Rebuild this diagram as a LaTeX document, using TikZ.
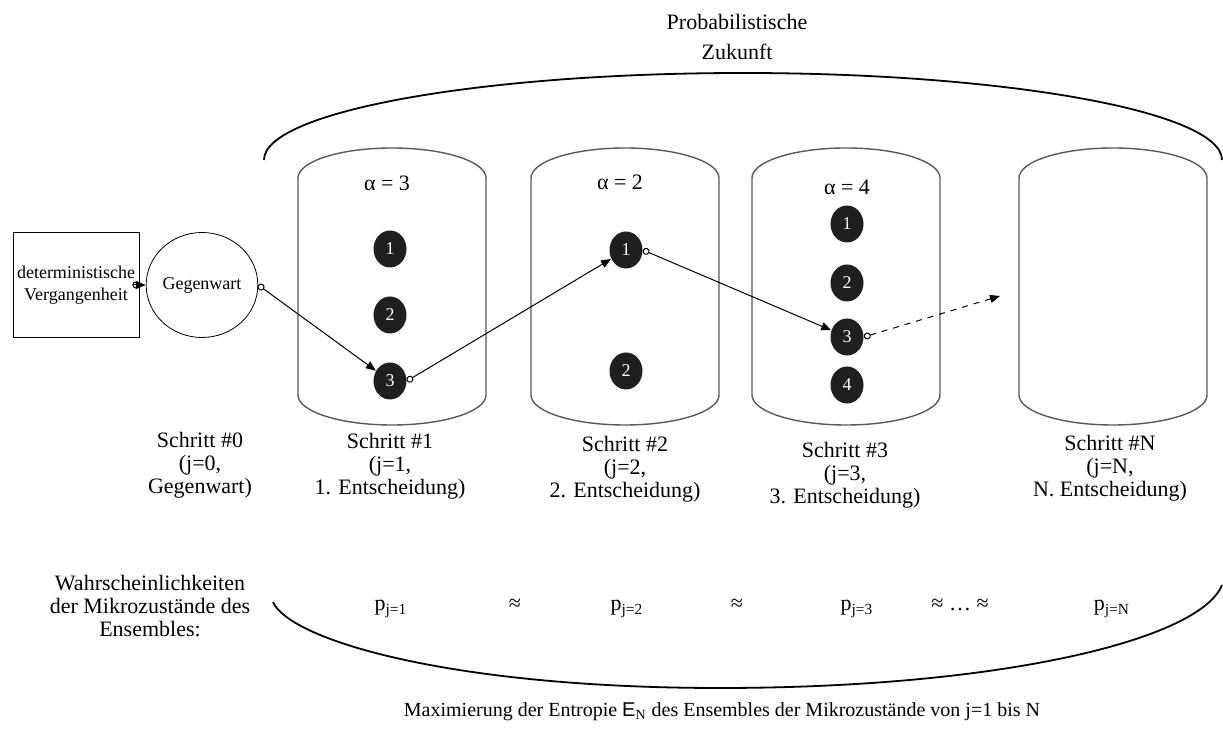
\documentclass[tikz,border=0pt]{standalone}
\usepackage{fontspec}
\setmainfont{Liberation Serif}
\newfontfamily\arialfont{Liberation Sans}
\usetikzlibrary{shapes.geometric,arrows.meta,positioning}

\begin{document}
\begin{tikzpicture}[x=0.5pt,y=-0.5pt,
		every node/.style={inner sep=1pt,font=\fontsize{11}{11.5}\selectfont},
		smalltext/.style={font=\fontsize{9}{11}\selectfont},
		mstate/.style={ellipse,fill=black!88,text=white,minimum width=16.5pt,
			minimum height=18.5pt,inner sep=0pt,smalltext},
		link/.style={{Circle[open,length=3.5pt,width=3.5pt]}-{Triangle[length=5pt,width=4pt]},
			line width=0.5pt},
		tank/.style={draw=black!65,line width=0.7pt},
		brace/.style={line width=0.9pt}]
		\useasboundingbox (0,0) rectangle (1223,731);

		% Future bracket and its title
		\node[align=center,font=\fontsize{11}{15}\selectfont] (future) at (737,37)
			{Probabilistische\\Zukunft};
		\draw[brace] (264,160) arc[start angle=180,end angle=360,x radius=479,y radius=87];

		% One tank per step
		\foreach \x in {298,531,752,1019} {
			\draw[tank] (\x,178) arc[start angle=180,end angle=360,x radius=94,y radius=30]
				-- (\x+188,395) arc[start angle=0,end angle=180,x radius=94,y radius=30] -- cycle;
		}

		% Past and present
		\node[draw,rectangle,minimum width=63pt,minimum height=52.5pt,align=center,smalltext]
			(past) at (76,285) {deterministische\\Vergangenheit};
		\node[draw,ellipse,minimum width=46.5pt,minimum height=52.5pt,inner sep=0pt,smalltext]
			(now) at (202,285) {Gegenwart};

		% Number of microstates
		\node (alpha1) at (387,183) {α = 3};
		\node (alpha2) at (620,182) {α = 2};
		\node (alpha3) at (847,187) {α = 4};

		% Microstates
		\foreach \i/\y in {1/249,2/315,3/381}
			\node[mstate] (a\i) at (390,\y) {\i};
		\foreach \i/\y in {1/250,2/371}
			\node[mstate] (b\i) at (626,\y) {\i};
		\foreach \i/\y in {1/224,2/283,3/337,4/385}
			\node[mstate] (c\i) at (847,\y) {\i};

		% Chosen path
		\draw[link] (past) -- (now);
		\draw[link] (now.east) -- (a3);
		\draw[link] (a3.east) -- (b1);
		\draw[link] (b1.east) -- (c3);
		\coordinate (next) at (1000,296);
		\draw[link,dashed] (c3.east) -- (next);

		% Steps
		\node[align=center] (step0) at (200,465) {Schritt \#0\\(j=0,\\Gegenwart)};
		\node[align=center] (step1) at (390,466) {Schritt \#1\\(j=1,\\1. Entscheidung)};
		\node[align=center] (step2) at (625,469) {Schritt \#2\\(j=2,\\2. Entscheidung)};
		\node[align=center] (step3) at (845,475) {Schritt \#3\\(j=3,\\3. Entscheidung)};
		\node[align=center] (stepN) at (1110,468) {Schritt \#N\\(j=N,\\N. Entscheidung)};

		% Probabilities
		\node[align=center] (prob) at (150,606)
			{Wahrscheinlichkeiten\\der Mikrozustände des\\Ensembles:};
		\node (p1) at (391,609) {p\textsubscript{j=1}};
		\node (eq1) at (515,605) {≈};
		\node (p2) at (627,609) {p\textsubscript{j=2}};
		\node (eq2) at (737,605) {≈};
		\node (p3) at (857,609) {p\textsubscript{j=3}};
		\node (eq3) at (960,605) {≈ … ≈};
		\node (pN) at (1112,609) {p\textsubscript{j=N}};
		\draw[brace] (273,602) .. controls (290,640) and (450,688) .. (720,688)
			.. controls (1000,688) and (1200,640) .. (1222,585);

		\node[font=\fontsize{10}{11}\selectfont] (maxent) at (722,712)
			{Maximierung der Entropie {\arialfont E}\textsubscript{N}
			des Ensembles der Mikrozustände von j=1 bis N};
	\end{tikzpicture}
\end{document}
